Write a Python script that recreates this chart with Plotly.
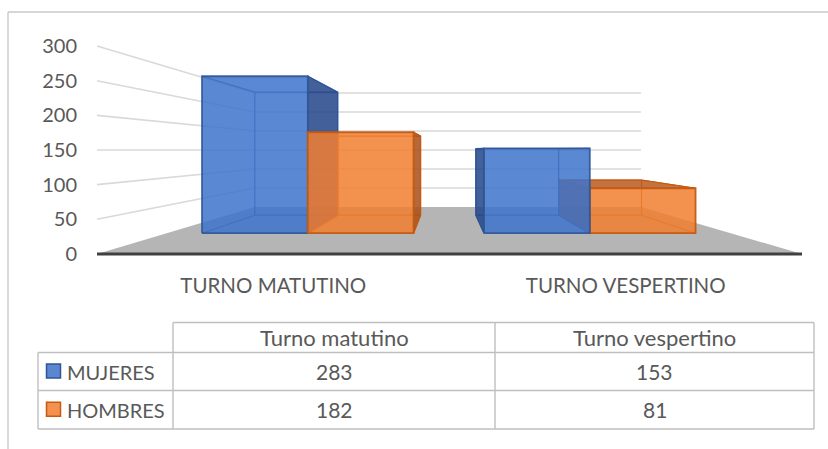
import plotly.graph_objects as go

# ---- data -------------------------------------------------------------
categories = ["TURNO MATUTINO", "TURNO VESPERTINO"]
table_columns = ["Turno matutino", "Turno vespertino"]
series_names = ["MUJERES", "HOMBRES"]
mujeres = [283, 153]
hombres = [182, 81]
y_ticks = [0, 50, 100, 150, 200, 250, 300]

series_values = [mujeres, hombres]

# ---- styling ----------------------------------------------------------
W, H = 828, 449
FONT = "Lato"
TEXT = "#595959"
GRID = "#d9d9d9"
FLOOR = "#b5b5b5"
BORDER = "#bfbfbf"

styles = [
    dict(front="rgba(62,115,202,0.85)", side="rgba(35,68,136,0.85)",
         top="rgba(35,68,136,0.85)", edge="rgba(47,85,151,0.9)",
         key_fill="#5b87d0", key_line="#2f5597"),
    dict(front="rgba(241,126,48,0.85)", side="rgba(168,79,24,0.85)",
         top="rgba(185,90,30,0.85)", edge="rgba(197,90,17,0.95)",
         key_fill="#f4914e", key_line="#c55a11"),
]

# ---- simple perspective model ------------------------------------------
# x in category units, v in value units (front plane), z = depth / focal.
PX_PER_CAT = 352.5
FLOOR_LEFT_PX = 97.0
PX_PER_VAL = 208.0 / 300.0
BASE_PX = 254.0
VP_X = 0.49
VP_V = 150.0
Z_BACK = 0.825
Z_BAR_FRONT, Z_BAR_BACK = 0.25, 0.595
GROUP_W = 0.75
X_LO, X_HI = -0.5, len(categories) - 0.5

x_range = [X_LO - FLOOR_LEFT_PX / PX_PER_CAT, X_LO + (W - FLOOR_LEFT_PX) / PX_PER_CAT]
y_range = [(BASE_PX - H) / PX_PER_VAL, BASE_PX / PX_PER_VAL]


def proj(x, v, z):
    s = 1.0 / (1.0 + z)
    return VP_X + (x - VP_X) * s, VP_V + (v - VP_V) * s


def poly(points):
    xs, ys = zip(*[proj(*p) for p in points])
    return list(xs) + [xs[0]], list(ys) + [ys[0]]


fig = go.Figure()


def add_fill(points, color, line_color=None, width=0):
    xs, ys = poly(points)
    fig.add_trace(go.Scatter(
        x=xs, y=ys, mode="lines", fill="toself", fillcolor=color,
        line=dict(color=line_color or "rgba(0,0,0,0)", width=width),
        hoverinfo="skip", showlegend=False))


def add_segments(segs, color, width):
    xs, ys = [], []
    for a, b in segs:
        pa, pb = proj(*a), proj(*b)
        xs += [pa[0], pb[0], None]
        ys += [pa[1], pb[1], None]
    fig.add_trace(go.Scatter(x=xs, y=ys, mode="lines",
                             line=dict(color=color, width=width),
                             hoverinfo="skip", showlegend=False))


# side wall and back wall gridlines
grid_segs = []
for v in y_ticks[1:]:
    grid_segs.append(((X_LO, v, 0.0), (X_LO, v, Z_BACK)))
    grid_segs.append(((X_LO, v, Z_BACK), (X_HI, v, Z_BACK)))
add_segments(grid_segs, GRID, 1.6)

# floor
add_fill([(X_LO, 0, 0), (X_HI, 0, 0), (X_HI, 0, Z_BACK), (X_LO, 0, Z_BACK)], FLOOR)


def draw_box(x0, x1, val, st):
    zf, zb = Z_BAR_FRONT, Z_BAR_BACK
    # hidden edges (seen through the translucent faces)
    hidden = [
        ((x0, 0, zb), (x1, 0, zb)), ((x0, val, zb), (x1, val, zb)),
        ((x0, 0, zb), (x0, val, zb)), ((x1, 0, zb), (x1, val, zb)),
        ((x0, 0, zf), (x0, 0, zb)), ((x1, 0, zf), (x1, 0, zb)),
        ((x0, val, zf), (x0, val, zb)), ((x1, val, zf), (x1, val, zb)),
    ]
    add_segments(hidden, st["edge"], 1.2)
    # visible side face
    sx = x1 if x1 <= VP_X else x0
    add_fill([(sx, 0, zf), (sx, val, zf), (sx, val, zb), (sx, 0, zb)],
             st["side"], st["edge"], 1.2)
    # top face, visible when below the eye level
    if val < VP_V:
        add_fill([(x0, val, zf), (x1, val, zf), (x1, val, zb), (x0, val, zb)],
                 st["top"], st["edge"], 1.2)
    # front face
    add_fill([(x0, 0, zf), (x1, 0, zf), (x1, val, zf), (x0, val, zf)],
             st["front"], st["edge"], 1.8)


# painter's order: outside-in toward the vanishing point
half = GROUP_W / 2
boxes = []
for ci in range(len(categories)):
    for si, vals in enumerate(series_values):
        x0 = ci - half + si * half
        boxes.append((x0, x0 + half, vals[ci], si))
left = sorted([b for b in boxes if (b[0] + b[1]) / 2 < VP_X], key=lambda b: b[0])
right = sorted([b for b in boxes if (b[0] + b[1]) / 2 >= VP_X], key=lambda b: -b[0])
for x0, x1, val, si in left + right:
    draw_box(x0, x1, val, styles[si])

# front edge of the floor (horizontal axis line)
add_segments([((X_LO, 0, 0), (X_HI, 0, 0))], "#404040", 3.2)


# ---- data table under the plot -------------------------------------------
def xp(px):
    return px / W


def yp(py):
    return 1 - py / H


shapes = []


def hline(y, xa, xb, color=BORDER, w=1.4):
    shapes.append(dict(type="line", xref="paper", yref="paper",
                       x0=xp(xa), x1=xp(xb), y0=yp(y), y1=yp(y),
                       line=dict(color=color, width=w)))


def vline(x, ya, yb, color=BORDER, w=1.4):
    shapes.append(dict(type="line", xref="paper", yref="paper",
                       x0=xp(x), x1=xp(x), y0=yp(ya), y1=yp(yb),
                       line=dict(color=color, width=w)))


# chart frame
hline(12, 8, W + 2, "#c8c8c8", 1.3)
vline(8, 12, H + 2, "#c8c8c8", 1.3)

TX = [38, 173, 495, 814]
TY = [322.5, 352.5, 390.5, 429]
hline(TY[0], TX[1], TX[3])
for y in TY[1:]:
    hline(y, TX[0], TX[3])
vline(TX[0], TY[1], TY[3])
for x in TX[1:]:
    vline(x, TY[0], TY[3])

annotations = []


def label(text, x, y, anchor="center", size=21):
    annotations.append(dict(text=text, x=xp(x), y=yp(y), xref="paper", yref="paper",
                            showarrow=False, xanchor=anchor, yanchor="middle",
                            font=dict(family=FONT, size=size, color=TEXT)))


for ci, col in enumerate(table_columns):
    cx = (TX[ci + 1] + TX[ci + 2]) / 2
    label(col, cx, (TY[0] + TY[1]) / 2, size=22)
for si, name in enumerate(series_names):
    cy = (TY[si + 1] + TY[si + 2]) / 2
    shapes.append(dict(type="rect", xref="paper", yref="paper",
                       x0=xp(46.5), x1=xp(60.5), y0=yp(cy - 7.5), y1=yp(cy + 6.5),
                       fillcolor=styles[si]["key_fill"],
                       line=dict(color=styles[si]["key_line"], width=1.5)))
    label(name, 65, cy, "left", size=20)
    for ci in range(len(categories)):
        cx = (TX[ci + 1] + TX[ci + 2]) / 2
        label(str(series_values[si][ci]), cx, cy)

fig.update_layout(
    width=W, height=H,
    margin=dict(l=0, r=0, t=0, b=0),
    paper_bgcolor="white", plot_bgcolor="white",
    showlegend=False,
    xaxis=dict(range=x_range, domain=[0, 1], anchor="free", position=yp(271),
               tickvals=list(range(len(categories))), ticktext=categories,
               showgrid=False, zeroline=False, showline=False, ticks="",
               tickfont=dict(family=FONT, size=20.5, color=TEXT), fixedrange=True),
    yaxis=dict(range=y_range, domain=[0, 1], anchor="free", position=xp(77),
               tickvals=y_ticks, ticktext=[str(t) for t in y_ticks],
               showgrid=False, zeroline=False, showline=False, ticks="",
               tickfont=dict(family=FONT, size=20, color=TEXT), fixedrange=True),
    shapes=shapes,
    annotations=annotations,
)

fig.write_html("out.html")
